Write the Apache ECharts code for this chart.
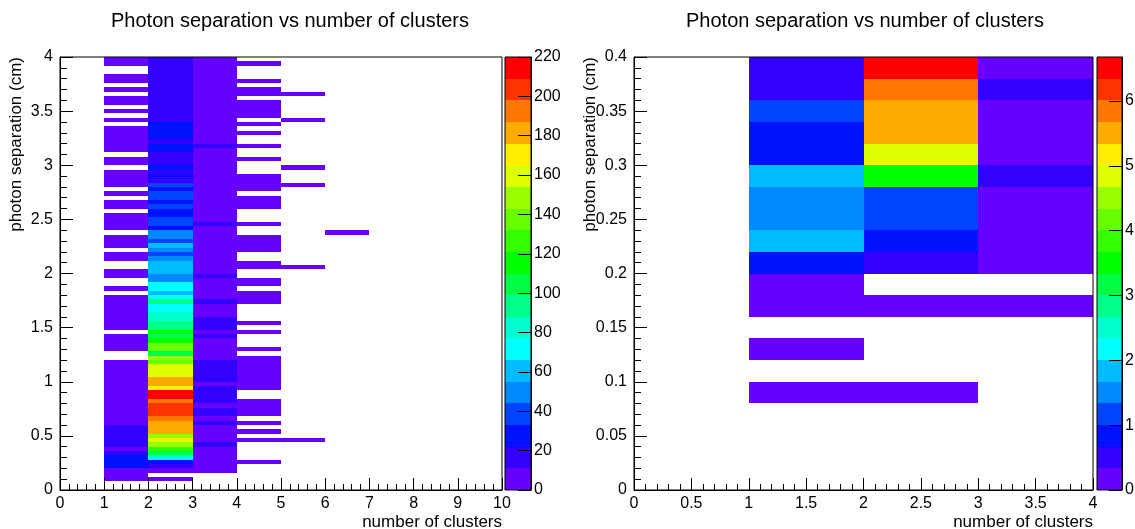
<!DOCTYPE html>
<html>
<head>
<meta charset="utf-8">
<script src="https://cdn.jsdelivr.net/npm/echarts@6/dist/echarts.min.js"></script>
<style>
  html, body { margin: 0; padding: 0; background: #fff; }
  #chart { width: 1135px; height: 529px; }
</style>
</head>
<body>
<div id="chart"></div>
<script>
// left histogram: x bins of width 1, y bins of 0.04 (100 rows, row 0 = 0..0.04)
var leftXBins = [[1, 2], [2, 3], [3, 4], [4, 5], [5, 6], [6, 7]];
var leftYStep = 0.04;
var leftZMax = 220;

var leftCol1 = [
  0, 0, 4, 3, 5, 28, 26, 29, 17, 8, 15, 18, 14, 16, 13, 7, 9, 6, 8, 7,
  5, 9, 6, 7, 8, 6, 5, 7, 4, 6, 0, 0, 3, 5, 4, 3, 0, 5, 4, 6,
  3, 4, 5, 3, 2, 0, 3, 0, 0, 2, 3, 0, 0, 2, 3, 0, 2, 3, 2, 0,
  1, 2, 3, 2, 0, 1, 2, 0, 1, 0, 2, 1, 2, 1, 0, 2, 1, 0, 1, 2,
  1, 2, 1, 1, 0, 1, 0, 1, 0, 1, 2, 0, 1, 0, 1, 1, 0, 0, 1, 2
];
var leftCol2 = [
  0, 0, 6, 0, 9, 17, 30, 84, 106, 126, 150, 160, 146, 182, 185, 180, 195, 204, 206, 200,
  193, 214, 218, 170, 184, 178, 160, 158, 162, 139, 149, 103, 136, 140, 116, 107, 114, 94, 92, 83,
  80, 72, 70, 95, 73, 61, 68, 74, 50, 48, 59, 62, 57, 47, 39, 51, 60, 36, 49, 46,
  27, 38, 40, 28, 25, 37, 29, 41, 35, 26, 39, 19, 27, 18, 24, 16, 20, 17, 25, 28,
  19, 26, 30, 24, 27, 21, 18, 20, 16, 19, 14, 17, 15, 20, 13, 18, 16, 12, 19, 15
];
var leftCol3 = [
  0, 0, 0, 0, 4, 7, 8, 9, 8, 10, 13, 9, 10, 8, 10, 12, 10, 14, 13, 10,
  12, 14, 13, 12, 10, 12, 13, 12, 14, 12, 9, 10, 9, 8, 10, 12, 9, 12, 13, 12,
  10, 9, 8, 12, 10, 8, 9, 7, 9, 12, 8, 7, 9, 6, 8, 7, 9, 8, 6, 7,
  8, 12, 7, 6, 8, 5, 7, 6, 8, 5, 7, 6, 5, 7, 6, 5, 4, 6, 5, 12,
  4, 6, 5, 3, 5, 4, 6, 3, 4, 5, 3, 4, 6, 3, 5, 4, 3, 5, 4, 6
];
var leftCol4 = [
  0, 0, 0, 0, 0, 0, 1, 0, 0, 0, 0, 2, 0, 1, 0, 1, 0, 1, 2, 1,
  1, 0, 0, 2, 1, 1, 2, 1, 1, 1, 2, 0, 1, 0, 0, 0, 1, 0, 1, 0,
  0, 0, 0, 1, 2, 1, 0, 1, 1, 0, 0, 1, 1, 0, 0, 1, 2, 1, 1, 0,
  0, 1, 0, 0, 0, 1, 2, 1, 0, 1, 1, 2, 1, 0, 0, 0, 1, 0, 0, 1,
  0, 0, 1, 0, 1, 0, 1, 1, 2, 1, 0, 1, 1, 0, 1, 0, 0, 0, 1, 0
];
var leftCol5 = [
  0, 0, 0, 0, 0, 0, 0, 0, 0, 0, 0, 1, 0, 0, 0, 0, 0, 0, 0, 0,
  0, 0, 0, 0, 0, 0, 0, 0, 0, 0, 0, 0, 0, 0, 0, 0, 0, 0, 0, 0,
  0, 0, 0, 0, 0, 0, 0, 0, 0, 0, 0, 1, 0, 0, 0, 0, 0, 0, 0, 0,
  0, 0, 0, 0, 0, 0, 0, 0, 0, 0, 1, 0, 0, 0, 1, 0, 0, 0, 0, 0,
  0, 0, 0, 0, 0, 1, 0, 0, 0, 0, 0, 1, 0, 0, 0, 0, 0, 0, 0, 0
];
var leftCol6 = [
  0, 0, 0, 0, 0, 0, 0, 0, 0, 0, 0, 0, 0, 0, 0, 0, 0, 0, 0, 0,
  0, 0, 0, 0, 0, 0, 0, 0, 0, 0, 0, 0, 0, 0, 0, 0, 0, 0, 0, 0,
  0, 0, 0, 0, 0, 0, 0, 0, 0, 0, 0, 0, 0, 0, 0, 0, 0, 0, 0, 1,
  0, 0, 0, 0, 0, 0, 0, 0, 0, 0, 0, 0, 0, 0, 0, 0, 0, 0, 0, 0,
  0, 0, 0, 0, 0, 0, 0, 0, 0, 0, 0, 0, 0, 0, 0, 0, 0, 0, 0, 0
];

// right histogram: x bins of width 1, y bins of 0.02 (20 rows)
var rightXBins = [[1, 2], [2, 3], [3, 4]];
var rightYStep = 0.02;
var rightZMax = 6.68;
var rightCol1 = [0, 0, 0, 0, 0.25, 0, 0.3, 0, 0.2, 0.25, 0.85, 1.85, 1.5, 1.45, 1.8, 0.8, 0.9, 1.15, 0.5, 0.45];
var rightCol2 = [0, 0, 0, 0, 0.3, 0, 0, 0, 0.3, 0, 0.5, 0.9, 1.2, 1.15, 3.5, 4.9, 5.5, 5.6, 5.85, 6.6];
var rightCol3 = [0, 0, 0, 0, 0, 0, 0, 0, 0.2, 0, 0.2, 0.2, 0.2, 0.2, 0.5, 0.25, 0.3, 0.2, 0.45, 0.3];

var palette = [
  '#6600ff', '#3300ff', '#0011ff', '#0044ff', '#0088ff', '#00bbff', '#00ffff',
  '#00ffcc', '#00ff88', '#00ff44', '#00ff00', '#33ff00', '#66ff00', '#99ff00',
  '#ddff00', '#ffee00', '#ffaa00', '#ff7700', '#ff3300', '#ff0000'
];
var nLevels = palette.length;

var titleText = 'Photon separation vs number of clusters';
var xTitle = 'number of clusters';
var yTitle = 'photon separation (cm)';
var font = 'Liberation Sans, Arial, sans-serif';

function buildCells(cols, xBins, yStep) {
  var out = [];
  for (var c = 0; c < cols.length; c++) {
    for (var r = 0; r < cols[c].length; r++) {
      var v = cols[c][r];
      if (v > 0) out.push([xBins[c][0], xBins[c][1], +(r * yStep).toFixed(4), +((r + 1) * yStep).toFixed(4), v]);
    }
  }
  return out;
}

function levelOf(v, zmax) {
  return Math.max(0, Math.min(nLevels - 1, Math.floor(v / zmax * nLevels)));
}

// cells go through the axes' scales
function cellRenderer(zmax) {
  return function (params, api) {
    var p0 = api.coord([api.value(0), api.value(3)]);
    var p1 = api.coord([api.value(1), api.value(2)]);
    var x0 = Math.round(p0[0]), y0 = Math.round(p0[1]);
    var x1 = Math.round(p1[0]), y1 = Math.round(p1[1]);
    return {
      type: 'rect',
      shape: { x: x0, y: y0, width: x1 - x0, height: y1 - y0 },
      style: { fill: palette[levelOf(api.value(4), zmax)] }
    };
  };
}

// colour scale boxes, one per contour level
function barRenderer(zmax) {
  return function (params, api) {
    var k = api.value(0);
    var p0 = api.coord([0, (k + 1) * zmax / nLevels]);
    var p1 = api.coord([1, k * zmax / nLevels]);
    var y0 = Math.round(p0[1]), y1 = Math.round(p1[1]);
    return {
      type: 'rect',
      shape: { x: p0[0], y: y0, width: p1[0] - p0[0], height: y1 - y0 },
      style: { fill: palette[k] }
    };
  };
}

var levels = [];
for (var i = 0; i < nLevels; i++) levels.push([i]);

var black = '#000';
var labelStyle = { color: black, fontSize: 16, fontFamily: font };

function plotXAxis(idx, max, interval) {
  return {
    gridIndex: idx, type: 'value', min: 0, max: max, interval: interval, z: 5,
    axisLine: { show: true, onZero: false, lineStyle: { color: black, width: 1 } },
    axisTick: { show: true, inside: true, length: 12, lineStyle: { color: black } },
    minorTick: { show: true, splitNumber: 5, length: 6, lineStyle: { color: black } },
    axisLabel: Object.assign({ margin: 6 }, labelStyle),
    splitLine: { show: false },
    name: xTitle, nameLocation: 'end', nameGap: 0, nameMoveOverlap: false,
    nameTextStyle: { color: black, fontSize: 17, fontFamily: font, align: 'right', verticalAlign: 'top', padding: [24, 0, 0, 0] }
  };
}

function plotYAxis(idx, max, interval) {
  return {
    gridIndex: idx, type: 'value', min: 0, max: max, interval: interval, z: 5,
    axisLine: { show: true, onZero: false, lineStyle: { color: black, width: 1 } },
    axisTick: { show: true, inside: true, length: 13, lineStyle: { color: black } },
    minorTick: { show: true, splitNumber: 5, length: 7, lineStyle: { color: black } },
    axisLabel: Object.assign({ margin: 7 }, labelStyle),
    splitLine: { show: false },
    name: yTitle, nameLocation: 'end', nameGap: 0, nameRotate: 90, nameMoveOverlap: false,
    nameTextStyle: { color: black, fontSize: 17, fontFamily: font, align: 'right', verticalAlign: 'bottom', padding: [0, 0, 35, 0] }
  };
}

function barXAxis(idx) {
  return { gridIndex: idx, type: 'value', min: 0, max: 1, show: false };
}

function barYAxis(idx, max, interval) {
  return {
    gridIndex: idx, type: 'value', position: 'right', min: 0, max: max, interval: interval, z: 5,
    axisLine: { show: true, onZero: false, lineStyle: { color: black, width: 1 } },
    axisTick: { show: true, inside: true, length: 13, lineStyle: { color: black } },
    axisLabel: Object.assign({ margin: 3, showMaxLabel: max % interval === 0 }, labelStyle),
    splitLine: { show: false }
  };
}

var frame = { show: true, z: 4, borderColor: black, borderWidth: 1, backgroundColor: 'transparent', outerBoundsMode: 'none', containLabel: false };

var chart = echarts.init(document.getElementById('chart'), null, { renderer: 'canvas' });

chart.setOption({
  backgroundColor: '#fff',
  animation: false,
  title: [
    { text: titleText, left: 290, top: 11, padding: 0, textAlign: 'center', textStyle: { color: black, fontSize: 20, fontWeight: 'normal', fontFamily: font } },
    { text: titleText, left: 865, top: 11, padding: 0, textAlign: 'center', textStyle: { color: black, fontSize: 20, fontWeight: 'normal', fontFamily: font } }
  ],
  grid: [
    Object.assign({ left: 60, top: 57, width: 442, height: 433 }, frame),
    Object.assign({ left: 505, top: 57, width: 26, height: 433 }, frame),
    Object.assign({ left: 634, top: 57, width: 459, height: 433 }, frame),
    Object.assign({ left: 1097, top: 57, width: 25, height: 433 }, frame)
  ],
  xAxis: [
    plotXAxis(0, 10, 1),
    barXAxis(1),
    plotXAxis(2, 4, 0.5),
    barXAxis(3)
  ],
  yAxis: [
    plotYAxis(0, 4, 0.5),
    barYAxis(1, leftZMax, 20),
    plotYAxis(2, 0.4, 0.05),
    barYAxis(3, rightZMax, 1)
  ],
  series: [
    {
      type: 'custom', xAxisIndex: 0, yAxisIndex: 0, clip: true,
      renderItem: cellRenderer(leftZMax),
      encode: { x: [0, 1], y: [2, 3] },
      data: buildCells([leftCol1, leftCol2, leftCol3, leftCol4, leftCol5, leftCol6], leftXBins, leftYStep)
    },
    {
      type: 'custom', xAxisIndex: 1, yAxisIndex: 1,
      renderItem: barRenderer(leftZMax),
      data: levels
    },
    {
      type: 'custom', xAxisIndex: 2, yAxisIndex: 2, clip: true,
      renderItem: cellRenderer(rightZMax),
      encode: { x: [0, 1], y: [2, 3] },
      data: buildCells([rightCol1, rightCol2, rightCol3], rightXBins, rightYStep)
    },
    {
      type: 'custom', xAxisIndex: 3, yAxisIndex: 3,
      renderItem: barRenderer(rightZMax),
      data: levels
    }
  ]
});
</script>
</body>
</html>
